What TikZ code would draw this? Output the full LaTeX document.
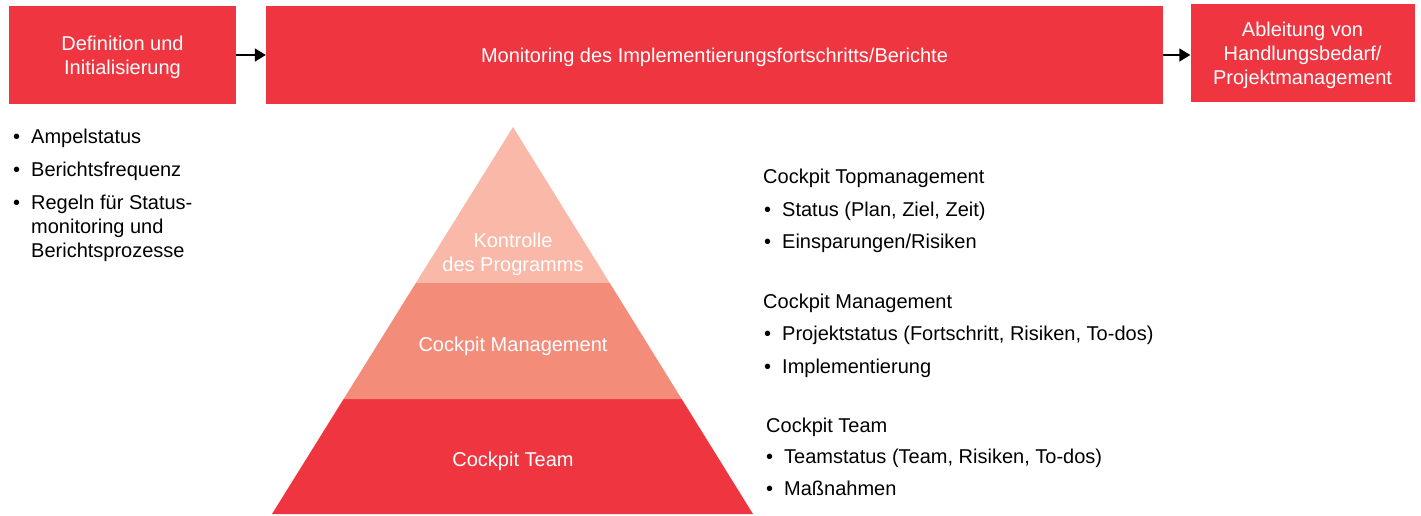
\documentclass[tikz,border=0pt]{standalone}
\usepackage{fontspec}
\setmainfont{Liberation Sans}
\usetikzlibrary{arrows.meta,calc}
\definecolor{cred}{HTML}{EE3540}
\definecolor{cmid}{HTML}{F48C7A}
\definecolor{clight}{HTML}{F9B8A8}
\tikzstyle{phase}=[fill=cred,text=white,align=center,inner sep=0pt,text depth=0pt,font=\fontsize{20}{24}\selectfont]
\tikzstyle{edge} = [draw,line width=1.5pt,-{Triangle[length=11pt,width=13pt]}]
\tikzstyle{layertext}=[text=white,align=center,inner sep=0pt,font=\fontsize{20}{24}\selectfont]
\tikzstyle{item}=[anchor=base west,inner sep=0pt,align=left,font=\fontsize{20}{24}\selectfont]
\newcommand{\blt}{\makebox[18pt][l]{\textbullet}}
\newcommand{\ind}{\hspace*{18pt}}

\begin{document}
\begin{tikzpicture}[x=1pt,y=-1pt]
    \useasboundingbox (0,0) rectangle (1421,515);

    \foreach \x/\y/\w/\name/\txt in {122.5/55/227/def/{Definition und\\Initialisierung}, 714.5/55/897/mon/{Monitoring des Implementierungsfortschritts/Berichte}, 1302.5/53/224/abl/{Ableitung von\\Handlungsbedarf/\\Projektmanagement}}
        \node[phase, minimum width=\w, minimum height=98] (\name) at (\x,\y) {\txt};

    \path[edge] (def.east) -- (def.east -| mon.west);
    \path[edge] (mon.east) -- (mon.east -| abl.west);

    % pyramid
    \coordinate (top) at (513,127);
    \coordinate (bl) at (272,514);
    \coordinate (br) at (753,514);
    \coordinate (l1) at ($(top)!0.403!(bl)$);
    \coordinate (r1) at ($(top)!0.403!(br)$);
    \coordinate (l2) at ($(top)!0.703!(bl)$);
    \coordinate (r2) at ($(top)!0.703!(br)$);
    \fill[cred] (l2) -- (r2) -- (br) -- (bl) -- cycle;
    \fill[cmid] (l1) -- (r1) -- (r2) -- (l2) -- cycle;
    \fill[clight] (top) -- (r1) -- (l1) -- cycle;

    \node[layertext] (kontrolle) at (513,254) {Kontrolle\\des Programms};
    \node[layertext] (cmgmt) at (513,346) {Cockpit Management};
    \node[layertext] (cteam) at (513,461) {Cockpit Team};

    % multi-line item sits on its last baseline
    \foreach \y/\name/\txt in {143/amp/{\blt Ampelstatus}, 176/freq/{\blt Berichtsfrequenz}, 257/regeln/{\blt Regeln für Status-\\\ind monitoring und\\\ind Berichtsprozesse}}
        \node[item] (\name) at (13,\y) {\txt};

    \node[item] (htop) at (763,183) {Cockpit Topmanagement};
    \foreach \y/\name/\txt in {216/status/{Status (Plan, Ziel, Zeit)}, 248/einsp/{Einsparungen/Risiken}}
        \node[item] (\name) at (764,\y) {\blt\txt};

    \node[item] (hmgmt) at (763,308) {Cockpit Management};
    \foreach \y/\name/\txt in {340/pstatus/{Projektstatus (Fortschritt, Risiken, To-dos)}, 373/impl/{Implementierung}}
        \node[item] (\name) at (764,\y) {\blt\txt};

    \node[item] (hteam) at (766,432) {Cockpit Team};
    \foreach \y/\name/\txt in {463/tstatus/{Teamstatus (Team, Risiken, To-dos)}, 495/massn/{Maßnahmen}}
        \node[item] (\name) at (766,\y) {\blt\txt};

\end{tikzpicture}
\end{document}
